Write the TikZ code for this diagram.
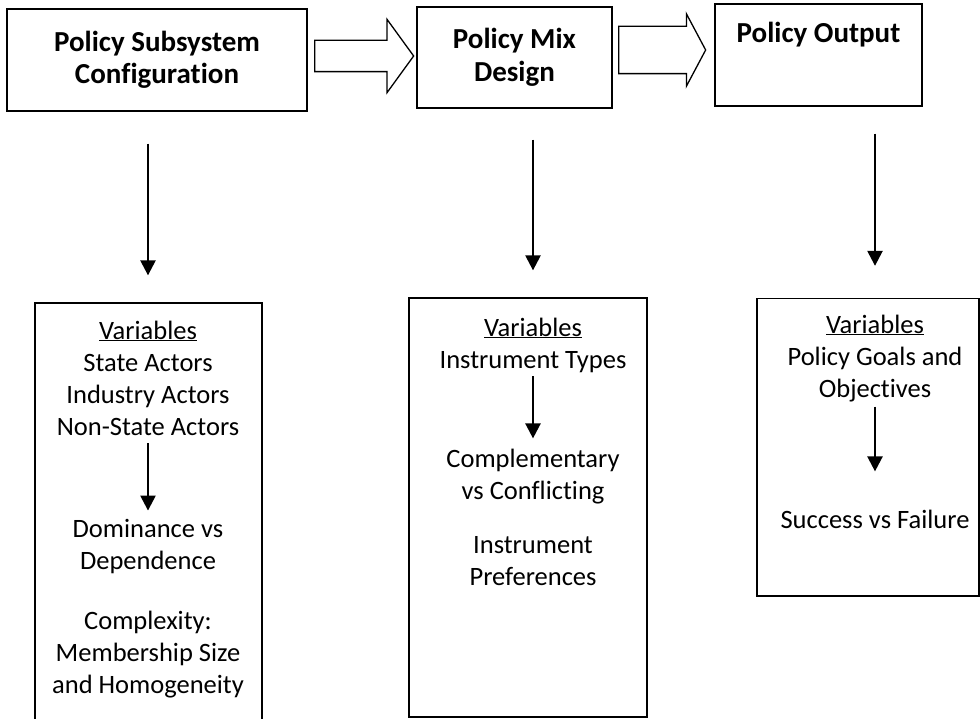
\documentclass[tikz,border=0pt]{standalone}
\usepackage{fontspec}
\setmainfont{Carlito}[Ligatures=NoCommon]
\usetikzlibrary{shapes.arrows,arrows.meta}
\tikzset{
  stage/.style={draw, line width=1.3pt, font=\bfseries\fontsize{29}{32.5}\selectfont, align=center},
  panel/.style={draw, line width=1.3pt},
  vars/.style={font=\fontsize{26.5}{32}\selectfont, align=center, inner sep=0pt, anchor=base},
  down/.style={-{Triangle[length=15pt,width=15pt]}, line width=2.4pt},
  hollow/.style={draw, line width=1.3pt, single arrow, single arrow head indent=0pt, anchor=tail,
    inner xsep=0pt, text height=0pt, text depth=0pt, minimum width=0pt}
}
\begin{document}
\begin{tikzpicture}[x=1pt,y=-1pt]
\useasboundingbox (0,0) rectangle (980,719);
\clip (0,0) rectangle (980,719);

% Stages
\node[stage, minimum width=300pt, minimum height=102pt] (config) at (157,60) {Policy Subsystem\\Configuration};
\node[stage, minimum width=195pt, minimum height=101pt] (mix) at (514.5,57.5) {Policy Mix\\Design};
\node[stage, minimum width=207pt, minimum height=102pt, text height=26pt, text depth=50pt, inner ysep=13pt] (output) at (818.5,55) {Policy Output};

% Hollow arrows
\node[hollow, minimum height=99pt, inner ysep=15pt, single arrow head extend=21pt, single arrow tip angle=108] (flow1) at (314,56) {};
\node[hollow, minimum height=87pt, inner ysep=23pt, single arrow head extend=12.5pt, single arrow tip angle=124] (flow2) at (618,50) {};

% Variable panels
\node[panel, minimum width=227pt, minimum height=437pt] (lowA) at (148.5,521.5) {};
\node[panel, minimum width=238pt, minimum height=419pt] (lowB) at (528,507.5) {};
\node[panel, minimum width=222pt, minimum height=297.5pt] (lowC) at (868,447.25) {};

% base = last line
\node[vars] (actors) at (148,435) {\underline{Variables}\\State Actors\\Industry Actors\\Non-State Actors};
\node[vars] (dominance) at (148,693) {Dominance vs\\Dependence\\[28pt]Complexity:\\Membership Size\\and Homogeneity};
\node[vars] (types) at (533,368) {\underline{Variables}\\Instrument Types};
\node[vars] (complement) at (533,585) {Complementary\\vs Conflicting\\[22pt]Instrument\\Preferences};
\node[vars] (goals) at (875,397) {\underline{Variables}\\Policy Goals and\\Objectives};
\node[vars] (success) at (875,528) {Success vs Failure};

% Arrows down
\draw[down, shorten <=32pt, shorten >=27pt] (config.south -| actors.north) -- (lowA.north -| actors.north);
\draw[down, shorten <=31pt, shorten >=27pt] (mix.south -| types.north) -- (lowB.north -| types.north);
\draw[down, shorten <=27pt, shorten >=32pt] (output.south -| goals.north) -- (lowC.north -| goals.north);

\draw[down, shorten <=8pt, shorten >=8pt] (actors.south) -- (dominance.north);
\draw[down, shorten <=4pt, shorten >=10pt] (types.south) -- (complement.north);
\draw[down, shorten <=5pt, shorten >=38pt] (goals.south) -- (success.north);
\end{tikzpicture}
\end{document}
